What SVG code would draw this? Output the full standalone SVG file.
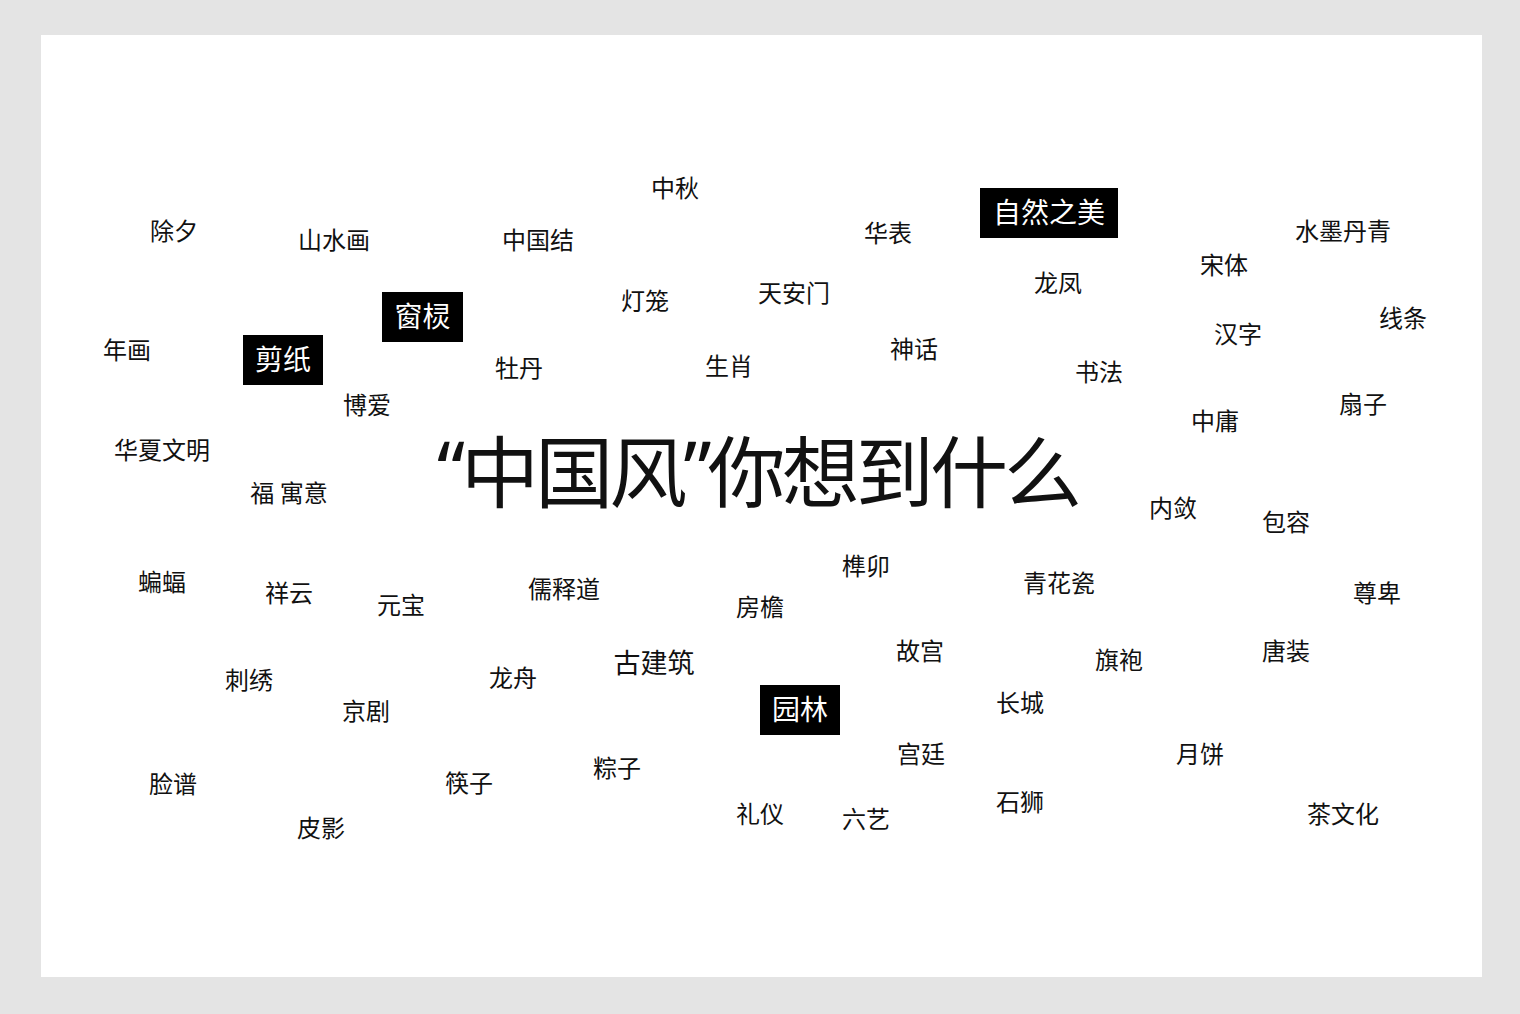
<svg xmlns="http://www.w3.org/2000/svg" width="1520" height="1014" viewBox="0 0 1520 1014">
<style>
text{font-family:"Noto Sans CJK SC","Noto Sans",sans-serif;fill:#111;text-anchor:middle;dominant-baseline:central}
.w{font-size:24px}
.b{font-size:28px;fill:#fff}
.box{fill:#000}
.t{font-size:78px;text-anchor:start}
.q{font-family:"Noto Sans","DejaVu Sans",sans-serif}
</style>
<rect x="0" y="0" width="1520" height="1014" fill="#e4e4e4"/>
<rect x="41" y="35" width="1441" height="942" fill="#fff"/>
<g id="title"><text class="t" x="437" y="468" textLength="645" lengthAdjust="spacing"><tspan class="q">“</tspan>中国风<tspan class="q">”</tspan>你想到什么</text></g>
<g id="words" transform="translate(0,-2)">
<text class="w" x="675" y="188">中秋</text>
<text class="w" x="174" y="231">除夕</text>
<text class="w" x="334" y="240">山水画</text>
<text class="w" x="538" y="240">中国结</text>
<text class="w" x="888" y="233">华表</text>
<text class="w" x="1343" y="231">水墨丹青</text>
<text class="w" x="1224" y="265">宋体</text>
<text class="w" x="1058" y="283">龙凤</text>
<text class="w" x="645" y="301">灯笼</text>
<text class="w" x="794" y="293">天安门</text>
<text class="w" x="1403" y="318">线条</text>
<text class="w" x="127" y="350">年画</text>
<text class="w" x="519" y="368">牡丹</text>
<text class="w" x="729" y="366">生肖</text>
<text class="w" x="914" y="349">神话</text>
<text class="w" x="1238" y="334">汉字</text>
<text class="w" x="1099" y="372">书法</text>
<text class="w" x="367" y="405">博爱</text>
<text class="w" x="1363" y="404">扇子</text>
<text class="w" x="1215" y="421">中庸</text>
<text class="w" x="162" y="450">华夏文明</text>
<text class="w" x="289" y="493">福 寓意</text>
<text class="w" x="1173" y="508">内敛</text>
<text class="w" x="1286" y="522">包容</text>
<text class="w" x="162" y="582">蝙蝠</text>
<text class="w" x="289" y="593">祥云</text>
<text class="w" x="401" y="605">元宝</text>
<text class="w" x="564" y="589">儒释道</text>
<text class="w" x="866" y="566">榫卯</text>
<text class="w" x="760" y="607">房檐</text>
<text class="w" x="1059" y="583">青花瓷</text>
<text class="w" x="1377" y="593">尊卑</text>
<text class="w" x="654" y="663" style="font-size:27px">古建筑</text>
<text class="w" x="920" y="651">故宫</text>
<text class="w" x="1119" y="660">旗袍</text>
<text class="w" x="1286" y="651">唐装</text>
<text class="w" x="249" y="680">刺绣</text>
<text class="w" x="513" y="678">龙舟</text>
<text class="w" x="366" y="711">京剧</text>
<text class="w" x="1020" y="703">长城</text>
<text class="w" x="921" y="754">宫廷</text>
<text class="w" x="1200" y="754">月饼</text>
<text class="w" x="617" y="768">粽子</text>
<text class="w" x="173" y="784">脸谱</text>
<text class="w" x="469" y="783">筷子</text>
<text class="w" x="760" y="814">礼仪</text>
<text class="w" x="866" y="819">六艺</text>
<text class="w" x="1020" y="802">石狮</text>
<text class="w" x="1343" y="814">茶文化</text>
<text class="w" x="321" y="828">皮影</text>
</g>
<g id="tag-ziran"><rect class="box" x="980" y="188" width="138" height="50"/><text class="b" x="1049" y="211">自然之美</text></g>
<g id="tag-chuangling"><rect class="box" x="382" y="292" width="81" height="50"/><text class="b" x="422.5" y="315">窗棂</text></g>
<g id="tag-jianzhi"><rect class="box" x="243" y="335" width="80" height="50"/><text class="b" x="283" y="358">剪纸</text></g>
<g id="tag-yuanlin"><rect class="box" x="760" y="685" width="80" height="50"/><text class="b" x="800" y="708">园林</text></g>
</svg>
